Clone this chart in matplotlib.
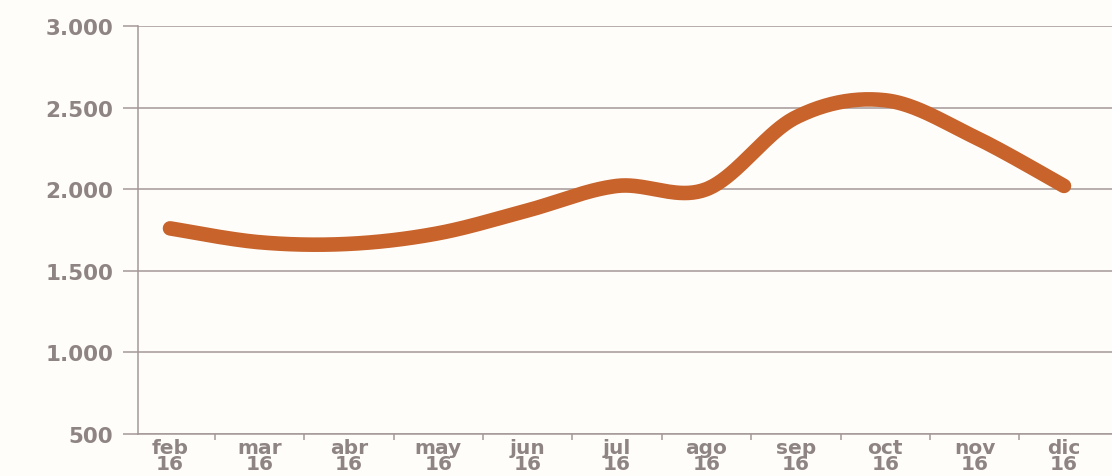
import numpy as np
import matplotlib
matplotlib.use("Agg")
import matplotlib.pyplot as plt
from matplotlib.ticker import FixedLocator, FuncFormatter

# Monthly values, Feb-Dec 2016
months = ["feb", "mar", "abr", "may", "jun", "jul", "ago", "sep", "oct", "nov", "dic"]
year_labels = ["16"] * len(months)
values = [1760, 1675, 1665, 1730, 1870, 2020, 2000, 2440, 2545, 2320, 2020]
y_ticks = [500, 1000, 1500, 2000, 2500, 3000]

LINE_COLOR = "#c8632b"
GRID_COLOR = "#a39898"
TEXT_COLOR = "#8e8484"
BG_COLOR = "#fffdfa"


def catmull_rom(x, y, samples=40):
    """Smooth curve through the points using a Catmull-Rom spline."""
    x = np.asarray(x, float)
    y = np.asarray(y, float)
    n = len(x)
    mx = np.empty(n)
    my = np.empty(n)
    mx[1:-1] = (x[2:] - x[:-2]) / 2
    my[1:-1] = (y[2:] - y[:-2]) / 2
    mx[0], my[0] = (x[1] - x[0]) / 2, (y[1] - y[0]) / 2
    mx[-1], my[-1] = (x[-1] - x[-2]) / 2, (y[-1] - y[-2]) / 2
    xs, ys = [], []
    t = np.linspace(0, 1, samples, endpoint=False)
    h00 = 2 * t**3 - 3 * t**2 + 1
    h10 = t**3 - 2 * t**2 + t
    h01 = -2 * t**3 + 3 * t**2
    h11 = t**3 - t**2
    for i in range(n - 1):
        xs.append(h00 * x[i] + h10 * mx[i] + h01 * x[i + 1] + h11 * mx[i + 1])
        ys.append(h00 * y[i] + h10 * my[i] + h01 * y[i + 1] + h11 * my[i + 1])
    xs.append([x[-1]])
    ys.append([y[-1]])
    return np.concatenate(xs), np.concatenate(ys)


W, H = 1112, 477
fig = plt.figure(figsize=(W / 100, H / 100), dpi=100)
fig.patch.set_facecolor(BG_COLOR)

left_px, right_px, top_px, bottom_px = 138, 1112, 27, 435
ax = fig.add_axes([left_px / W, 1 - bottom_px / H,
                   (right_px - left_px) / W, (bottom_px - top_px) / H])
ax.set_facecolor(BG_COLOR)

xi = np.arange(len(months))
sx, sy = catmull_rom(xi, values)
ax.plot(sx, sy, color=LINE_COLOR, lw=10.5, solid_capstyle="round",
        solid_joinstyle="round", zorder=3)

step = 89.4
ax.set_xlim((left_px - 170) / step, (right_px - 170) / step)
ax.set_ylim(500, 3000)

# horizontal grid
ax.yaxis.set_major_locator(FixedLocator(y_ticks))
ax.yaxis.set_major_formatter(FuncFormatter(lambda v, p: f"{int(v):,}".replace(",", ".")))
ax.grid(axis="y", color=GRID_COLOR, lw=1.1, zorder=1)
ax.tick_params(axis="y", length=11, width=1.1, color=GRID_COLOR, pad=7,
               labelsize=15.5, labelcolor=TEXT_COLOR)

# category labels with boundary ticks
ax.set_xticks(xi)
ax.set_xticklabels([f"{m}\n{y}" for m, y in zip(months, year_labels)],
                   linespacing=0.8)
ax.xaxis.set_minor_locator(FixedLocator(xi[:-1] + 0.5))
ax.tick_params(axis="x", which="major", length=0, pad=3,
               labelsize=14.5, labelcolor=TEXT_COLOR)
ax.tick_params(axis="x", which="minor", length=4, width=1.1, color=GRID_COLOR)

for lab in ax.get_xticklabels() + ax.get_yticklabels():
    lab.set_fontweight("bold")
    lab.set_family("DejaVu Sans")

for side in ("top", "right"):
    ax.spines[side].set_visible(False)
for side in ("left", "bottom"):
    ax.spines[side].set_color(GRID_COLOR)
    ax.spines[side].set_linewidth(1.1)

fig.savefig("out.png", dpi=100, facecolor=BG_COLOR)
